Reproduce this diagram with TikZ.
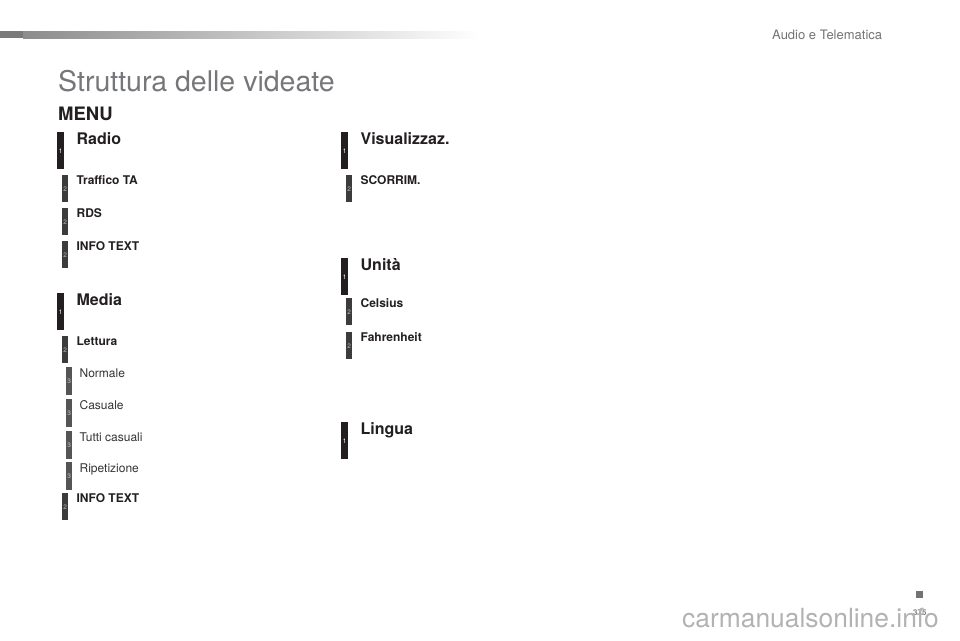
\documentclass[tikz,border=0pt]{standalone}
\usepackage{fontspec}
\setmainfont{TeX Gyre Heros}
\usetikzlibrary{positioning}
\definecolor{inkblack}{HTML}{231F20}
\definecolor{tagmid}{HTML}{3C3C3C}
\definecolor{taglight}{HTML}{555555}
\definecolor{titlegray}{HTML}{76777A}
\begin{document}
\begin{tikzpicture}[
        x=1pt, y=-1pt,
        tagone/.style={rectangle,anchor=north west,fill=inkblack,minimum width=7pt,minimum height=37pt,inner sep=0pt,text=white,font=\fontsize{6.5}{6.5}\selectfont},
        tagtwo/.style={rectangle,anchor=north west,fill=tagmid,minimum width=6pt,minimum height=27pt,inner sep=0pt,text=black!25,font=\fontsize{6.5}{6.5}\selectfont},
        tagthree/.style={rectangle,anchor=north west,fill=taglight,minimum width=6pt,minimum height=28pt,inner sep=0pt,text=black!20,font=\fontsize{6.5}{6.5}\selectfont},
        lblone/.style={anchor=base west,inner sep=0pt,text=inkblack,font=\fontsize{16}{16}\selectfont\bfseries},
        lbltwo/.style={anchor=base west,inner sep=0pt,text=inkblack,font=\fontsize{12}{12}\selectfont\bfseries},
        lblthree/.style={anchor=base west,inner sep=0pt,text=black!80,font=\fontsize{12}{12}\selectfont},
    ]
    \useasboundingbox (0,0) rectangle (960,640);
    % header strip
    \fill[black!52] (0,31) rectangle (23,38);
    \shade[left color=black!45, right color=white] (23,31) rectangle (480,38);
    \node[anchor=base west,inner sep=0pt,text=black!55,font=\fontsize{13}{13}\selectfont] (section) at (772,39) {Audio e Telematica};
    \node[anchor=base west,inner sep=0pt,text=titlegray,font=\fontsize{28.5}{28.5}\selectfont] (title) at (58,91) {Struttura delle videate};
    \node[anchor=base west,inner sep=0pt,text=inkblack,font=\fontsize{18.5}{18.5}\selectfont\bfseries] (menu) at (58,120) {MENU};
    % level 1
    \foreach \x/\y/\name/\txt in {
        57/132/radio/Radio, 57/293/media/Media, 341/132/visual/Visualizzaz.,
        341/258/unita/Unità, 341/422/lingua/Lingua}{
        \node[tagone] (\name) at (\x,\y) {1};
        \node[lblone] (\name lbl) at ([xshift=12pt,yshift=-12pt]\name.north east) {\txt};
    }
    % level 2
    \foreach \x/\y/\name/\txt in {
        62/175/traffico/Traffico TA, 62/208/rds/RDS, 62/241/infotexta/INFO TEXT,
        62/336/lettura/Lettura, 62/493/infotextb/INFO TEXT,
        346/175/scorrim/SCORRIM., 346/298/celsius/Celsius, 346/332/fahrenheit/Fahrenheit}{
        \node[tagtwo] (\name) at (\x,\y) {2};
        \node[lbltwo] (\name lbl) at ([xshift=8pt,yshift=-9pt]\name.north east) {\txt};
    }
    % level 3
    \foreach \y/\name/\txt in {
        367/normale/Normale, 399/casuale/Casuale, 431/tutti/Tutti casuali, 462/ripet/Ripetizione}{
        \node[tagthree] (\name) at (66,\y) {3};
        \node[lblthree] (\name lbl) at ([xshift=7pt,yshift=-10pt]\name.north east) {\txt};
    }
    % page corner
    \fill[black!55] (916,591) rectangle (923,598);
    \node[anchor=base west,inner sep=0pt,text=black!50,font=\fontsize{8}{8}\selectfont\bfseries] (pagenum) at (913,615) {375};
    \node[anchor=base west,inner sep=0pt,text=black!30,font=\fontsize{26.4}{26.4}\selectfont] (watermark) at (682,627) {carmanualsonline.info};
\end{tikzpicture}
\end{document}
